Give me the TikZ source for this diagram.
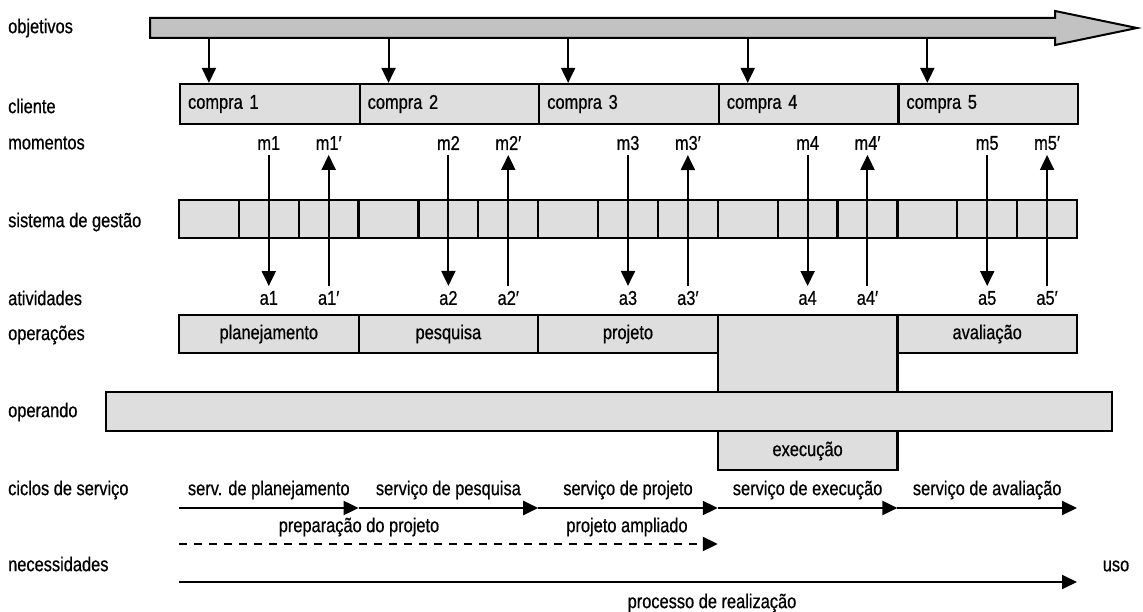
\documentclass[tikz,border=0pt]{standalone}
\usepackage{fontspec}
\setmainfont[FakeStretch=0.82,FakeBold=0.6]{Liberation Sans}
\usepackage{tikz}
\usetikzlibrary{arrows.meta,calc}
\definecolor{cinza}{rgb}{0.87,0.87,0.87}
\definecolor{cinzaescuro}{rgb}{0.76,0.76,0.76}

\begin{document}
\begin{tikzpicture}[x=1pt,y=-1pt,
    font=\fontsize{20}{22}\selectfont,
    caixa/.style={draw, line width=2.2pt, fill=cinza},
    compra/.style={caixa, anchor=west, minimum height=40pt, text width=163.6pt,
      inner xsep=8pt, align=left},
    celula/.style={caixa, minimum width=59.87pt, minimum height=38pt, inner sep=0pt},
    oper/.style={caixa, minimum width=179.6pt, minimum height=38pt},
    rotulo/.style={anchor=west, inner sep=0pt},
    mom/.style={inner sep=2pt, outer sep=3pt},
    seta/.style={line width=2pt, -{Triangle[length=15pt,width=14pt]}}]
  \useasboundingbox (0,0) rectangle (1143,612);

  % labels on the left
  \node[rotulo] (lobj) at (8,28) {objetivos};
  \node[rotulo] (lcli) at (8,106) {cliente};
  \node[rotulo] (lmom) at (8,143) {momentos};
  \node[rotulo] (lsis) at (8,222) {sistema de gestão};
  \node[rotulo] (lati) at (8,298) {atividades};
  \node[rotulo] (lope) at (8,335) {operações};
  \node[rotulo] (lopd) at (8,412) {operando};
  \node[rotulo] (lcic) at (8,490) {ciclos de serviço};
  \node[rotulo] (lnec) at (8,564) {necessidades};

  % big arrow
  \filldraw[fill=cinzaescuro, line width=2pt] (150,18) -- (1055,18) -- (1055,11)
    -- (1137,28) -- (1055,45) -- (1055,38) -- (150,38) -- cycle;

  % First purchase
  \node[compra] (c1) at (179,104) {compra 1};
  \node[celula] (s1) at (208.93,219) {};
  \node[celula] (s2) at (268.8,219) {};
  \node[celula] (s3) at (328.67,219) {};
  \coordinate (o1) at (208.93,38);
  \draw[seta] (o1) -- (o1 |- c1.north);
  \node[mom] (m1) at (268.8,143) {m1};
  \node[mom] (m1b) at (328.67,143) {m1′};
  \node[mom] (a1) at (268.8,298) {a1};
  \node[mom] (a1b) at (328.67,298) {a1′};
  \draw[seta] (m1) -- (a1);
  \draw[seta] (a1b) -- (m1b);

  % Second purchase
  \node[compra] (c2) at (358.6,104) {compra 2};
  \node[celula] (s4) at (388.53,219) {};
  \node[celula] (s5) at (448.4,219) {};
  \node[celula] (s6) at (508.27,219) {};
  \coordinate (o2) at (388.53,38);
  \draw[seta] (o2) -- (o2 |- c2.north);
  \node[mom] (m2) at (448.4,143) {m2};
  \node[mom] (m2b) at (508.27,143) {m2′};
  \node[mom] (a2) at (448.4,298) {a2};
  \node[mom] (a2b) at (508.27,298) {a2′};
  \draw[seta] (m2) -- (a2);
  \draw[seta] (a2b) -- (m2b);

  % Third purchase
  \node[compra] (c3) at (538.2,104) {compra 3};
  \node[celula] (s7) at (568.13,219) {};
  \node[celula] (s8) at (628,219) {};
  \node[celula] (s9) at (687.87,219) {};
  \coordinate (o3) at (568.13,38);
  \draw[seta] (o3) -- (o3 |- c3.north);
  \node[mom] (m3) at (628,143) {m3};
  \node[mom] (m3b) at (687.87,143) {m3′};
  \node[mom] (a3) at (628,298) {a3};
  \node[mom] (a3b) at (687.87,298) {a3′};
  \draw[seta] (m3) -- (a3);
  \draw[seta] (a3b) -- (m3b);

  % Fourth purchase
  \node[compra] (c4) at (717.8,104) {compra 4};
  \node[celula] (s10) at (747.73,219) {};
  \node[celula] (s11) at (807.6,219) {};
  \node[celula] (s12) at (867.47,219) {};
  \coordinate (o4) at (747.73,38);
  \draw[seta] (o4) -- (o4 |- c4.north);
  \node[mom] (m4) at (807.6,143) {m4};
  \node[mom] (m4b) at (867.47,143) {m4′};
  \node[mom] (a4) at (807.6,298) {a4};
  \node[mom] (a4b) at (867.47,298) {a4′};
  \draw[seta] (m4) -- (a4);
  \draw[seta] (a4b) -- (m4b);

  % Fifth purchase
  \node[compra] (c5) at (897.4,104) {compra 5};
  \node[celula] (s13) at (927.33,219) {};
  \node[celula] (s14) at (987.2,219) {};
  \node[celula] (s15) at (1047.07,219) {};
  \coordinate (o5) at (927.33,38);
  \draw[seta] (o5) -- (o5 |- c5.north);
  \node[mom] (m5) at (987.2,143) {m5};
  \node[mom] (m5b) at (1047.07,143) {m5′};
  \node[mom] (a5) at (987.2,298) {a5};
  \node[mom] (a5b) at (1047.07,298) {a5′};
  \draw[seta] (m5) -- (a5);
  \draw[seta] (a5b) -- (m5b);

  % operations
  \node[oper] (p1) at (268.8,334) {planejamento};
  \node[oper] (p2) at (448.4,334) {pesquisa};
  \node[oper] (p3) at (628,334) {projeto};
  \node[caixa, minimum width=179.6pt, minimum height=155pt] (p4) at (807.6,392.5) {};
  \node (tp4) at (807.6,451) {execução};
  \node[oper] (p5) at (987.2,334) {avaliação};
  \node[caixa, minimum width=1006pt, minimum height=39pt] (opd) at (609,411.5) {};

  % service cycles
  \coordinate (k0) at (179,508);
  \coordinate (k1) at (358.6,508);
  \coordinate (k2) at (538.2,508);
  \coordinate (k3) at (717.8,508);
  \coordinate (k4) at (897.4,508);
  \coordinate (k5) at (1077,508);
  \draw[seta] (k0) -- (k1);
  \draw[seta] (k1) -- (k2);
  \draw[seta] (k2) -- (k3);
  \draw[seta] (k3) -- (k4);
  \draw[seta] (k4) -- (k5);
  \node (t1) at (268.8,490) {serv. de planejamento};
  \node (t2) at (448.4,490) {serviço de pesquisa};
  \node (t3) at (628,490) {serviço de projeto};
  \node (t4) at (807.6,490) {serviço de execução};
  \node (t5) at (987.2,490) {serviço de avaliação};

  % extended project
  \coordinate (d0) at (179,544);
  \coordinate (d1) at (717.8,544);
  \draw[seta, dash pattern=on 8pt off 7pt] (d0) -- (d1);
  \node (prep) at (359,527) {preparação do projeto};
  \node (ampl) at (627,527) {projeto ampliado};

  % realization
  \coordinate (r0) at (179,582);
  \coordinate (r1) at (1077,582);
  \draw[seta] (r0) -- (r1);
  \node (real) at (712,603) {processo de realização};
  \node (uso) at (1116,566) {uso};
\end{tikzpicture}
\end{document}
